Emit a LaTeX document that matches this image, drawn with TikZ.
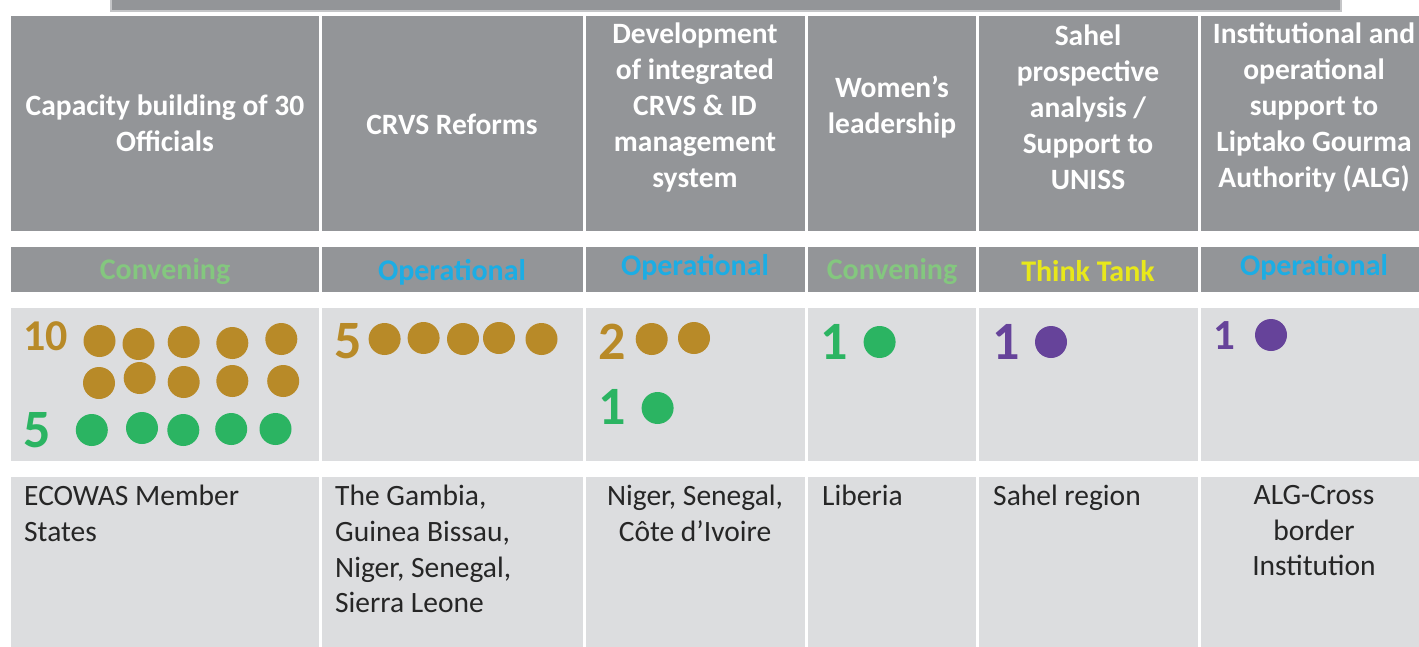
\documentclass[tikz,border=0pt]{standalone}
\usepackage{fontspec}
\setmainfont{Carlito}
\usepackage{tikz}

\definecolor{headgray}{RGB}{147,149,152}
\definecolor{barline}{RGB}{196,197,199}
\definecolor{cellgray}{RGB}{220,221,223}
\definecolor{gold}{RGB}{184,138,40}
\definecolor{dotgreen}{RGB}{43,180,98}
\definecolor{convgreen}{RGB}{132,199,127}
\definecolor{opblue}{RGB}{28,173,228}
\definecolor{thinkyellow}{RGB}{232,232,26}
\definecolor{purp}{RGB}{102,67,154}

\tikzset{
	headcell/.style={fill=headgray, inner sep=0, anchor=north west},
	lightcell/.style={fill=cellgray, inner sep=0, anchor=north west},
	headtext/.style={text=white, font=\bfseries\fontsize{29.5}{36}\selectfont, align=center, inner sep=0},
	cattext/.style={font=\bfseries\fontsize{30}{36}\selectfont, inner sep=0},
	bignum/.style={font=\bfseries\fontsize{54}{60}\selectfont, inner sep=0},
	placetext/.style={text=black!85, font=\fontsize{29.5}{35.7}\selectfont, inner sep=0, anchor=north},
	dot/.style={circle, inner sep=0, minimum size=32}
}

\begin{document}
\begin{tikzpicture}[x=1pt, y=-1pt]
	\useasboundingbox (0,0) rectangle (1419,646);

	% title bar, cut off at the top
	\node[headcell, draw=barline, line width=2pt, minimum width=1230, minimum height=20] (bar) at (110,-10) {};

	% the four rows of cells
	\foreach \n/\l/\r in {1/11/319, 2/322/583, 3/586/805, 4/808/976, 5/979/1198, 6/1201/1419} {
		\node[headcell, minimum width={\r-\l}, minimum height=215] (h\n) at (\l,16) {};
		\node[headcell, minimum width={\r-\l}, minimum height=45] (c\n) at (\l,247) {};
		\node[lightcell, minimum width={\r-\l}, minimum height=153] (d\n) at (\l,308) {};
		\node[lightcell, minimum width={\r-\l}, minimum height=175] (p\n) at (\l,477) {};
	}

	% activities
	\node[headtext] (act1) at (165,123) {Capacity building of 30\\Officials};
	\node[headtext] (act2) at (452,124) {CRVS Reforms};
	\node[headtext] (act3) at (695,107.5) {Development\\of integrated\\CRVS \& ID\\management\\system};
	\node[headtext] (act4) at (892,107) {Women’s\\leadership};
	\node[headtext] (act5) at (1088,107.5) {Sahel\\prospective\\analysis /\\Support to\\UNISS};
	\node[headtext] (act6) at (1314,107.5) {Institutional and\\operational\\support to\\Liptako Gourma\\Authority (ALG)};

	% kind of work
	\node[cattext, text=convgreen] (kind1) at (165,272) {Convening};
	\node[cattext, text=opblue] (kind2) at (452,272) {Operational};
	\node[cattext, text=opblue] (kind3) at (695,267) {Operational};
	\node[cattext, text=convgreen] (kind4) at (892,272) {Convening};
	\node[cattext, text=thinkyellow] (kind5) at (1088,271) {Think Tank};
	\node[cattext, text=opblue] (kind6) at (1314,267) {Operational};

	% counts
	\node[bignum, text=gold, font=\bfseries\fontsize{44}{50}\selectfont] (n1a) at (45.5,336) {10};
	\node[bignum, text=dotgreen] (n1b) at (37.5,430) {5};
	\node[bignum, text=gold] (n2) at (348.5,341) {5};
	\node[bignum, text=gold] (n3a) at (612.5,341.5) {2};
	\node[bignum, text=dotgreen] (n3b) at (612.5,407) {1};
	\node[bignum, text=dotgreen] (n4) at (834,341.5) {1};
	\node[bignum, text=purp] (n5) at (1006.5,341.5) {1};
	\node[bignum, text=purp, font=\bfseries\fontsize{43}{50}\selectfont] (n6) at (1224.5,335.5) {1};

	% people
	\foreach \x/\y in {99.5/341, 138.5/344, 183.7/342, 232.3/343, 281.3/339,
		99/383, 139.7/378, 183.7/382, 232.3/381, 283.2/381,
		384.6/339, 423.6/338, 463/339, 499/338, 541.5/339,
		651.7/339, 694/338}
		\node[dot, fill=gold] at (\x,\y) {};
	\foreach \x/\y in {91.8/430, 142/428, 183.3/430, 231.2/429, 275.5/429,
		657.6/408, 879.6/342}
		\node[dot, fill=dotgreen] at (\x,\y) {};
	\node[dot, fill=purp] (p5dot) at (1051,342) {};
	\node[dot, fill=purp] (p6dot) at (1271,335) {};

	% where
	\node[placetext, anchor=north west, align=left] (w1) at (24,485) {ECOWAS Member\\States};
	\node[placetext, anchor=north west, align=left] (w2) at (335,485) {The Gambia,\\Guinea Bissau,\\Niger, Senegal,\\Sierra Leone};
	\node[placetext, align=center] (w3) at (695,485) {Niger, Senegal,\\Côte d’Ivoire};
	\node[placetext, anchor=north west] (w4) at (822,485) {Liberia};
	\node[placetext, anchor=north west] (w5) at (993,485) {Sahel region};
	\node[placetext, align=center] (w6) at (1314,485) {ALG-Cross\\border\\Institution};
\end{tikzpicture}
\end{document}
